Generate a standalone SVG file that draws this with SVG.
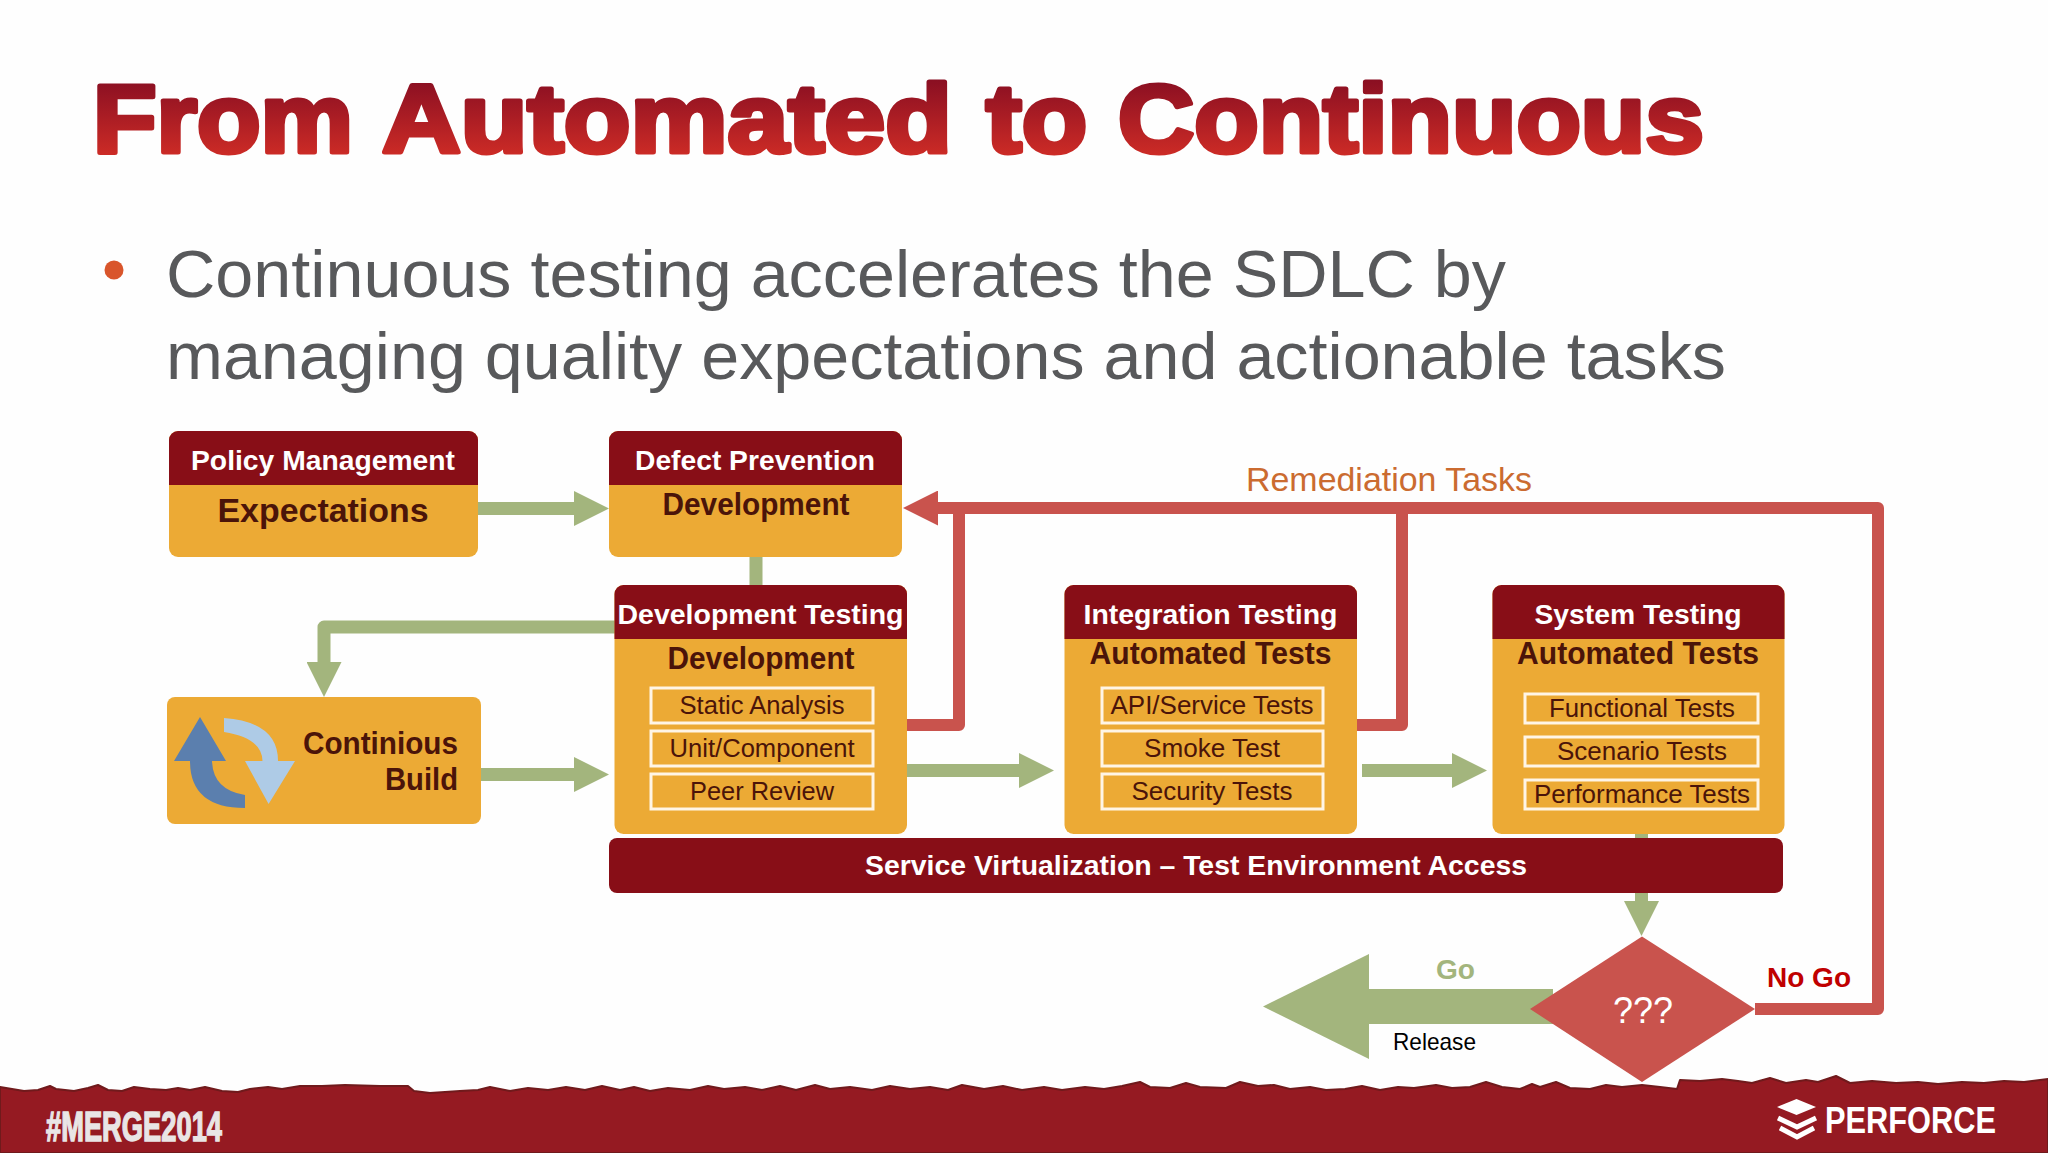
<svg xmlns="http://www.w3.org/2000/svg" width="2048" height="1153" viewBox="0 0 2048 1153">
<style>
text{font-family:"Liberation Sans",Arial,sans-serif}
.amber{fill:#ecaa35}
.hdr{fill:#880e17}
.hl{fill:#fff;font-weight:700;font-size:28px;text-anchor:middle}
.sub{fill:#4b1409;font-weight:700;font-size:31px;text-anchor:middle}
.item{fill:#4b1409;font-size:26px;text-anchor:middle}
.inner{fill:none;stroke:#fff5e6;stroke-width:3}
.g{fill:none;stroke:#a3b57d;stroke-width:13;stroke-linejoin:round}
.r{fill:none;stroke:#c9534d;stroke-width:12;stroke-linejoin:round}
.ttl{font-size:97px;font-weight:700;fill:url(#tg);stroke:url(#tg);stroke-width:5;stroke-linejoin:round}
</style>
<defs>
<linearGradient id="tg" gradientUnits="userSpaceOnUse" x1="0" y1="80" x2="0" y2="155"><stop offset="0" stop-color="#8a0f22"/><stop offset="1" stop-color="#cc2b26"/></linearGradient>
<marker id="gh" viewBox="0 0 35 35" refX="0" refY="17.500" markerUnits="userSpaceOnUse" markerWidth="35" markerHeight="35" orient="auto"><polygon points="0,0 35,17.500 0,35" fill="#a3b57d"/></marker>
<marker id="gb" viewBox="0 0 106 105" refX="0" refY="52.500" markerUnits="userSpaceOnUse" markerWidth="106" markerHeight="105" orient="auto"><polygon points="0,0 106,52.500 0,105" fill="#a3b57d"/></marker>
<marker id="rh" viewBox="0 0 35 35" refX="0" refY="17.500" markerUnits="userSpaceOnUse" markerWidth="35" markerHeight="35" orient="auto"><polygon points="0,0 35,17.500 0,35" fill="#c9534d"/></marker>
</defs>
<rect width="2048" height="1153" fill="#fefefe"/>
<g id="footer">
<polygon fill="#951a22" stroke="#701a1c" stroke-width="2" stroke-linejoin="round" points="0,1087 12,1089 24,1091 38,1090 50,1086 56,1089 74,1091 88,1088 98,1085 108,1090 122,1091 134,1087 150,1089 166,1090 178,1088 190,1090 205,1087 222,1091 238,1092 250,1089 268,1087 282,1089 300,1086 322,1086 345,1085 380,1086 408,1086 414,1091 430,1093 460,1091 478,1090 490,1087 510,1091 528,1088 548,1090 566,1087 585,1090 602,1086 620,1090 634,1087 650,1091 668,1088 690,1090 708,1086 724,1089 745,1087 762,1090 780,1086 796,1090 815,1085 830,1089 850,1087 872,1090 890,1086 910,1089 930,1087 948,1090 962,1085 984,1089 1003,1086 1022,1090 1044,1087 1062,1090 1085,1087 1104,1089 1122,1086 1140,1082 1150,1087 1170,1088 1186,1083 1200,1087 1226,1088 1240,1082 1258,1086 1274,1085 1290,1089 1310,1087 1326,1090 1345,1089 1362,1086 1380,1090 1398,1087 1414,1088 1436,1085 1452,1088 1470,1087 1486,1082 1502,1087 1520,1089 1532,1084 1540,1087 1556,1082 1570,1088 1590,1089 1606,1085 1622,1087 1642,1085 1660,1087 1677,1089 1680,1080 1700,1081 1722,1079 1738,1081 1752,1083 1770,1078 1786,1083 1806,1080 1818,1082 1836,1076 1850,1083 1872,1081 1896,1083 1918,1082 1938,1084 1962,1082 1984,1083 2004,1081 2024,1082 2048,1079 2048,1153 0,1153"/>
<text x="134" y="1141" font-size="42" font-weight="700" fill="#e9e5e5" stroke="#e9e5e5" stroke-width="1.500" text-anchor="middle" textLength="176" lengthAdjust="spacingAndGlyphs">#MERGE2014</text>
<polygon points="1796.500,1099 1816,1107 1796.500,1115 1777,1107" fill="#fff"/>
<polyline points="1778,1118 1797,1127 1816,1118" fill="none" stroke="#fff" stroke-width="5"/>
<polyline points="1780,1128 1797,1137 1814,1128" fill="none" stroke="#fff" stroke-width="5"/>
<text x="1825" y="1133" font-size="37" font-weight="700" fill="#fff" textLength="171" lengthAdjust="spacingAndGlyphs">PERFORCE</text>
</g>
<g id="title">
<text class="ttl" x="93" y="152" textLength="260" lengthAdjust="spacingAndGlyphs">From</text>
<text class="ttl" x="382" y="152" textLength="570" lengthAdjust="spacingAndGlyphs">Automated</text>
<text class="ttl" x="986" y="152" textLength="101" lengthAdjust="spacingAndGlyphs">to</text>
<text class="ttl" x="1118" y="152" textLength="586" lengthAdjust="spacingAndGlyphs">Continuous</text>
</g>
<g id="bullets">
<circle cx="114" cy="270" r="9.500" fill="#d9552b"/>
<text x="166" y="297" font-size="67" fill="#58595b" textLength="1340" lengthAdjust="spacingAndGlyphs">Continuous testing accelerates the SDLC by</text>
<text x="166" y="379" font-size="67" fill="#58595b" textLength="1560" lengthAdjust="spacingAndGlyphs">managing quality expectations and actionable tasks</text>
</g>
<g id="connectors">
<path class="g" d="M478 508.500H574" marker-end="url(#gh)"/>
<path class="g" d="M756 556V586"/>
<path class="g" d="M615 627H324V662" marker-end="url(#gh)"/>
<path class="g" d="M481 774.500H574" marker-end="url(#gh)"/>
<path class="g" d="M907 770.500H1019" marker-end="url(#gh)"/>
<path class="g" d="M1362 770.500H1452" marker-end="url(#gh)"/>
<path class="g" d="M1641.500 833V901" marker-end="url(#gh)"/>
<path class="g" style="stroke-width:35" d="M1553 1006.500H1369" marker-end="url(#gb)"/>
<path class="r" d="M1755 1009H1878V508H938" marker-end="url(#rh)"/>
<path class="r" d="M907 725H959V508"/>
<path class="r" d="M1357 725H1402V508"/>
</g>
<g id="policy">
<rect class="amber" x="169" y="431" width="309" height="126" rx="9"/>
<path class="hdr" d="M169 485V440a9 9 0 0 1 9-9H469a9 9 0 0 1 9 9V485Z"/>
<text class="hl" x="323" y="470" textLength="264" lengthAdjust="spacingAndGlyphs">Policy Management</text>
<text class="sub" x="323" y="522" style="font-size:33px" textLength="211" lengthAdjust="spacingAndGlyphs">Expectations</text>
</g>
<g id="defect">
<rect class="amber" x="609" y="431" width="293" height="126" rx="9"/>
<path class="hdr" d="M609 485V440a9 9 0 0 1 9-9H893a9 9 0 0 1 9 9V485Z"/>
<text class="hl" x="755" y="470" textLength="240" lengthAdjust="spacingAndGlyphs">Defect Prevention</text>
<text class="sub" x="756" y="515" textLength="187" lengthAdjust="spacingAndGlyphs">Development</text>
</g>
<g id="build">
<rect class="amber" x="167" y="697" width="314" height="127" rx="8"/>
<path d="M200 717L226 761H212Q213 790 245 795L245 808Q190 808 190 761H174Z" fill="#5b7fae"/>
<path d="M224 718Q278 722 278 761H295L268.600 804L245 761H262.500Q262 738 224 732Z" fill="#aecbe6"/>
<text class="sub" x="458" y="754" style="text-anchor:end" textLength="155" lengthAdjust="spacingAndGlyphs">Continious</text>
<text class="sub" x="458" y="790" style="text-anchor:end" textLength="73" lengthAdjust="spacingAndGlyphs">Build</text>
</g>
<g id="devtest">
<rect class="amber" x="614.500" y="585" width="292.500" height="249" rx="9"/>
<path class="hdr" d="M614.500 639V594a9 9 0 0 1 9-9H898a9 9 0 0 1 9 9V639Z"/>
<text class="hl" x="760.500" y="624" textLength="286" lengthAdjust="spacingAndGlyphs">Development Testing</text>
<text class="sub" x="761" y="669" textLength="187" lengthAdjust="spacingAndGlyphs">Development</text>
<rect class="inner" x="651" y="688" width="222" height="35"/>
<text class="item" x="762" y="714" textLength="165" lengthAdjust="spacingAndGlyphs">Static Analysis</text>
<rect class="inner" x="651" y="731" width="222" height="35"/>
<text class="item" x="762" y="757" textLength="185" lengthAdjust="spacingAndGlyphs">Unit/Component</text>
<rect class="inner" x="651" y="774" width="222" height="35"/>
<text class="item" x="762" y="800" textLength="144" lengthAdjust="spacingAndGlyphs">Peer Review</text>
</g>
<g id="inttest">
<rect class="amber" x="1064.500" y="585" width="292.500" height="249" rx="9"/>
<path class="hdr" d="M1064.500 639V594a9 9 0 0 1 9-9H1348a9 9 0 0 1 9 9V639Z"/>
<text class="hl" x="1210.500" y="624" textLength="254" lengthAdjust="spacingAndGlyphs">Integration Testing</text>
<text class="sub" x="1210.500" y="664" textLength="242" lengthAdjust="spacingAndGlyphs">Automated Tests</text>
<rect class="inner" x="1102" y="688" width="221" height="35"/>
<text class="item" x="1212" y="714" textLength="203" lengthAdjust="spacingAndGlyphs">API/Service Tests</text>
<rect class="inner" x="1102" y="731" width="221" height="35"/>
<text class="item" x="1212" y="757" textLength="136" lengthAdjust="spacingAndGlyphs">Smoke Test</text>
<rect class="inner" x="1102" y="774" width="221" height="35"/>
<text class="item" x="1212" y="800" textLength="161" lengthAdjust="spacingAndGlyphs">Security Tests</text>
</g>
<g id="systest">
<rect class="amber" x="1492.500" y="585" width="292" height="249" rx="9"/>
<path class="hdr" d="M1492.500 639V594a9 9 0 0 1 9-9H1775.500a9 9 0 0 1 9 9V639Z"/>
<text class="hl" x="1638" y="624" textLength="207" lengthAdjust="spacingAndGlyphs">System Testing</text>
<text class="sub" x="1638" y="664" textLength="242" lengthAdjust="spacingAndGlyphs">Automated Tests</text>
<rect class="inner" x="1525" y="694" width="233" height="29"/>
<text class="item" x="1642" y="717" textLength="186" lengthAdjust="spacingAndGlyphs">Functional Tests</text>
<rect class="inner" x="1525" y="737" width="233" height="29"/>
<text class="item" x="1642" y="760" textLength="170" lengthAdjust="spacingAndGlyphs">Scenario Tests</text>
<rect class="inner" x="1525" y="780" width="233" height="29"/>
<text class="item" x="1642" y="803" textLength="216" lengthAdjust="spacingAndGlyphs">Performance Tests</text>
</g>
<g id="service">
<rect class="hdr" x="609" y="838" width="1174" height="55" rx="8"/>
<text class="hl" x="1196" y="875" textLength="662" lengthAdjust="spacingAndGlyphs">Service Virtualization – Test Environment Access</text>
</g>
<g id="decision">
<polygon points="1642,936.500 1755,1009 1642,1082 1530,1009" fill="#c9534d"/>
<text x="1643" y="1023" font-size="36" fill="#fff" text-anchor="middle" textLength="60" lengthAdjust="spacingAndGlyphs">???</text>
</g>
<g id="labels">
<text x="1246" y="491" font-size="33" fill="#cb6b30" textLength="286" lengthAdjust="spacingAndGlyphs">Remediation Tasks</text>
<text x="1436" y="979" font-size="28" font-weight="700" fill="#a3b57d" textLength="39" lengthAdjust="spacingAndGlyphs">Go</text>
<text x="1767" y="987" font-size="28" font-weight="700" fill="#c00000" textLength="84" lengthAdjust="spacingAndGlyphs">No Go</text>
<text x="1393" y="1050" font-size="24" fill="#000" textLength="83" lengthAdjust="spacingAndGlyphs">Release</text>
</g>
</svg>
